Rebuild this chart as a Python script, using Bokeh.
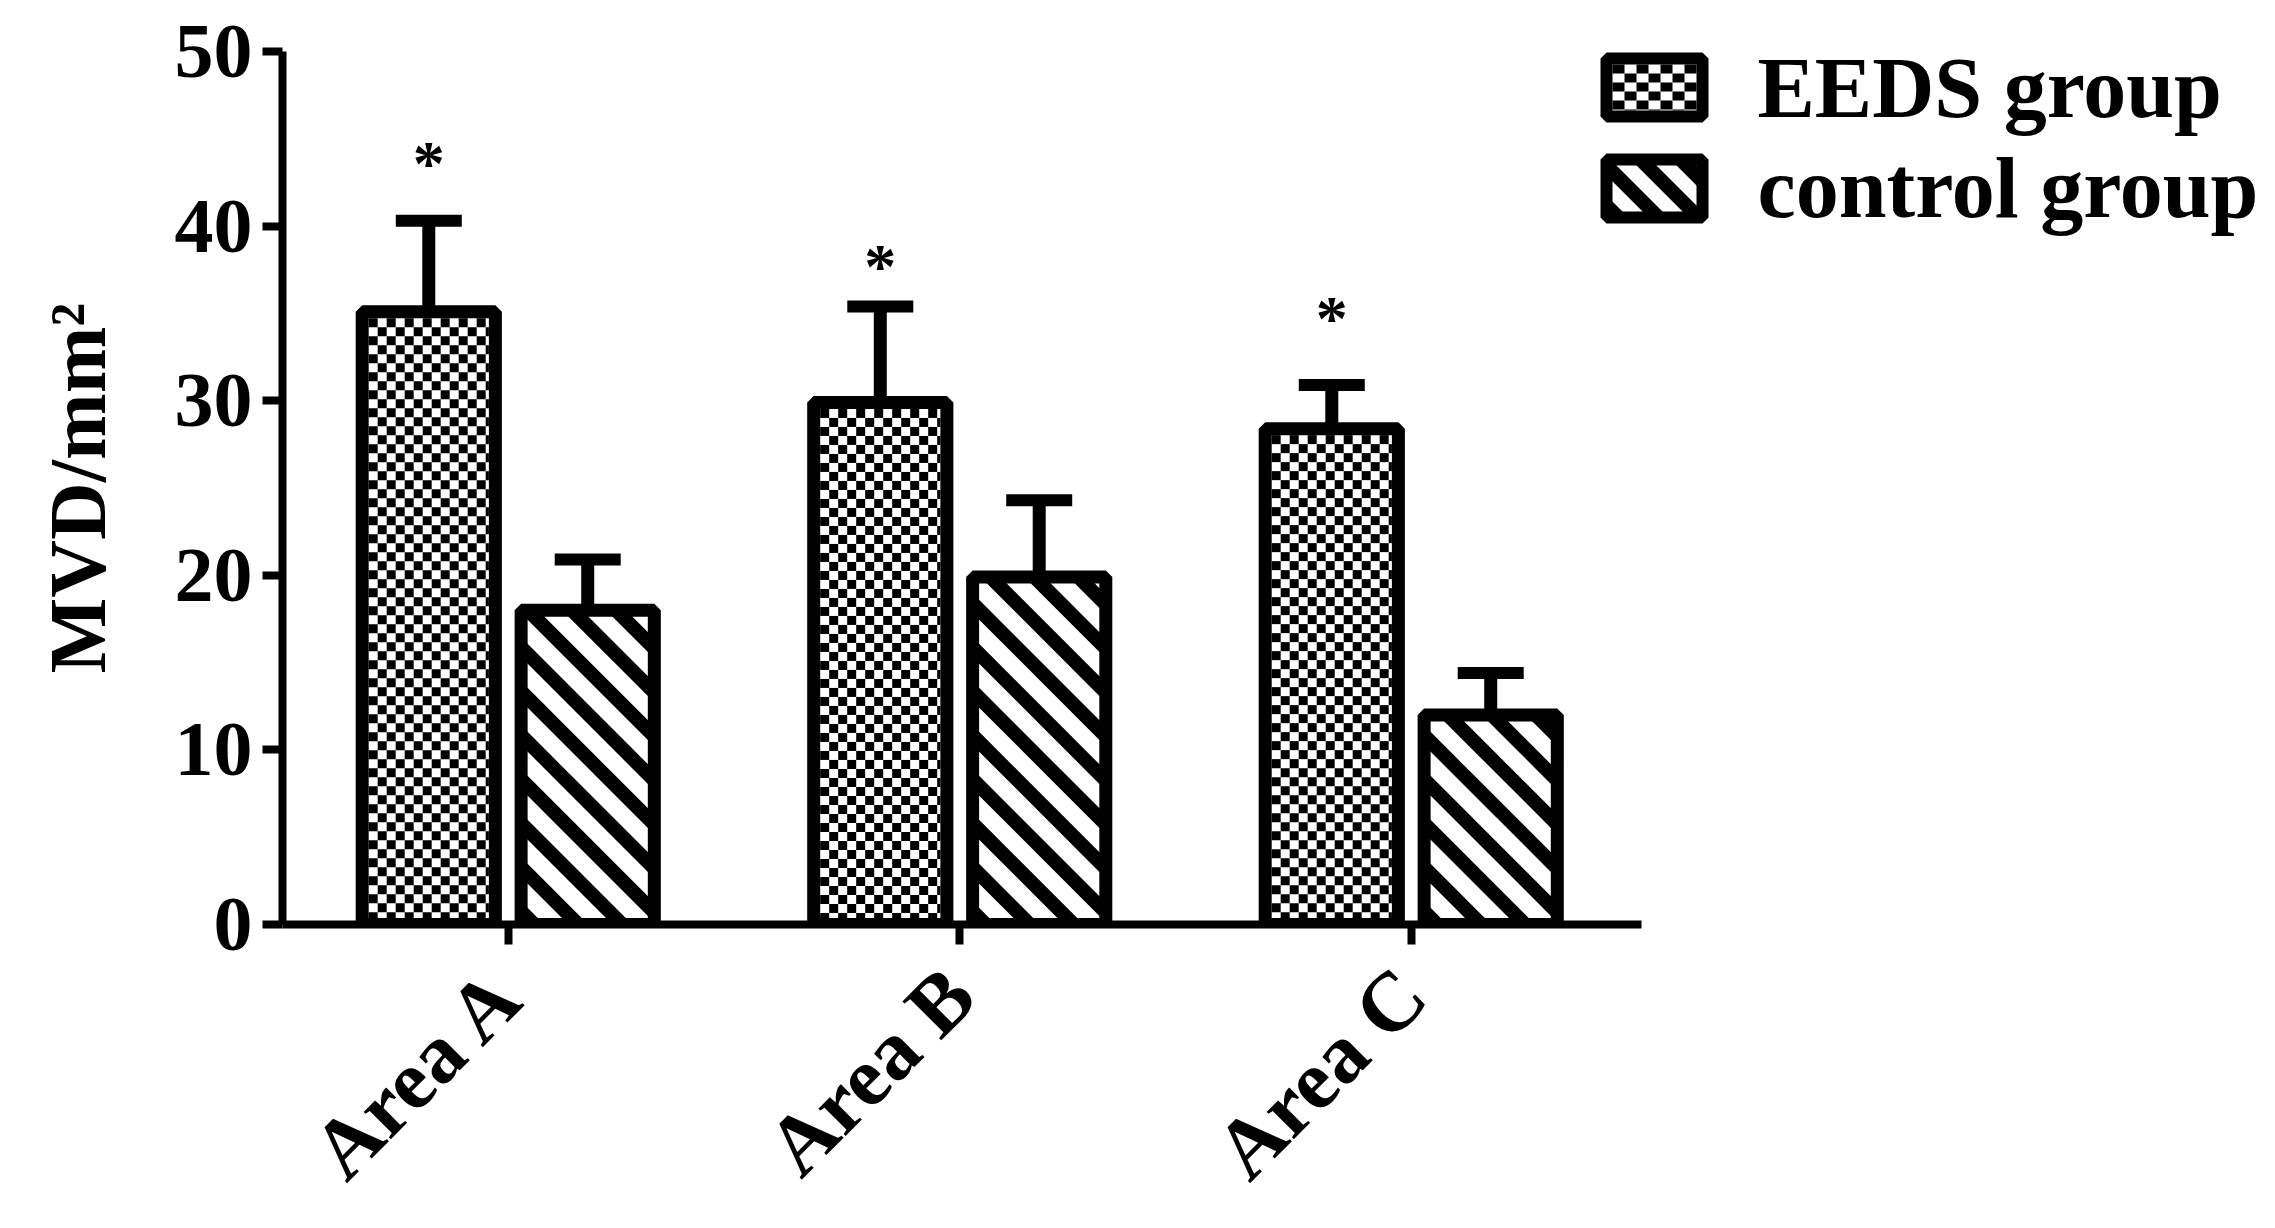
import math
from bokeh.plotting import figure
from bokeh.models import ColumnDataSource, Range1d, Whisker, TeeHead, FixedTicker
from bokeh.core.properties import value
from bokeh.embed import file_html
from bokeh.resources import INLINE

# ---- data ----
categories = ["Area A", "Area B", "Area C"]
series_names = ["EEDS group", "control group"]
eeds_mean = [35.1, 29.9, 28.4]
eeds_upper = [40.3, 35.4, 30.9]
control_mean = [18.0, 19.9, 12.0]
control_upper = [20.9, 24.3, 14.4]
star_labels = ["*", "*", "*"]
star_y = [43.6, 37.7, 34.7]
y_ticks = [0, 10, 20, 30, 40, 50]

# ---- layout / style constants ----
FONT = "Liberation Serif"
LEFT, TOP = 282, 51          # page px of frame left / top
FRAME_W, FRAME_H = 1983, 873
SX = 451.5                   # px per category unit
SY = FRAME_H / 50.0          # px per y unit
X_START = -0.5
X_END = X_START + FRAME_W / SX
BAR_W = 0.295
OFF = 0.176
LW = 13

xpos = list(range(len(categories)))
x_eeds = [x - OFF for x in xpos]
x_ctrl = [x + OFF for x in xpos]


def page_x(px):
    return X_START + (px - LEFT) / SX


def page_y(py):
    return 50.0 - (py - TOP) / SY


def checker(x0, x1, y0, y1, cw_px, ch_px):
    cw, ch = cw_px / SX, ch_px / SY
    nx = math.ceil((x1 - x0) / cw)
    ny = math.ceil((y1 - y0) / ch)
    L, R, B, T = [], [], [], []
    for j in range(ny):
        for i in range(nx):
            if (i + j) % 2 == 0:
                l = x0 + i * cw
                b = y1 - (j + 1) * ch
                L.append(l); R.append(min(l + cw, x1))
                B.append(max(b, y0)); T.append(b + ch)
    return L, R, B, T


def stripes(x0, x1, y0, y1, period_px=44.0):
    X0, X1, Y0, Y1 = x0 * SX, x1 * SX, y0 * SY, y1 * SY
    xs0, ys0, xs1, ys1 = [], [], [], []
    c = X0 + Y0 + period_px * 0.3
    while c < X1 + Y1:
        xa = max(X0, c - Y1)
        xb = min(X1, c - Y0)
        if xb > xa:
            xs0.append(xa / SX); ys0.append((c - xa) / SY)
            xs1.append(xb / SX); ys1.append((c - xb) / SY)
        c += period_px
    return xs0, ys0, xs1, ys1


p = figure(x_range=Range1d(X_START, X_END), y_range=Range1d(0, 50),
           frame_width=FRAME_W, frame_height=FRAME_H,
           min_border_left=LEFT, min_border_top=TOP, min_border_right=5, min_border_bottom=296,
           output_backend="svg", toolbar_location=None, tools="")
p.outline_line_color = None
p.xgrid.grid_line_color = None
p.ygrid.grid_line_color = None

hx = (LW / 2) / SX
hy = (LW / 2) / SY

# checker pattern for EEDS bars
cL, cR, cB, cT = [], [], [], []
for x, top in zip(x_eeds, eeds_mean):
    l, r, b, t = checker(x - BAR_W / 2 + hx, x + BAR_W / 2 - hx, 0, top - hy, 9, 9)
    cL += l; cR += r; cB += b; cT += t
# stripes for control bars
sx0, sy0, sx1, sy1 = [], [], [], []
for x, top in zip(x_ctrl, control_mean):
    a, b, c, d = stripes(x - BAR_W / 2, x + BAR_W / 2, 0, top)
    sx0 += a; sy0 += b; sx1 += c; sy1 += d

# legend geometry (page px)
LEG_L, LEG_R = 1606, 1702
LEG_BOX = [(58, 116), (159, 217)]
LEG_TEXT_X = 1757
LEG_BASE = [87, 187]
lgx0, lgx1 = page_x(LEG_L), page_x(LEG_R)
(t1, b1), (t2, b2) = LEG_BOX
l, r, b, t = checker(lgx0 + 6 / SX, lgx1 - 6 / SX, page_y(b1) + 6 / SY, page_y(t1) - 6 / SY, 12, 9)
cL += l; cR += r; cB += b; cT += t
a, b_, c, d = stripes(lgx0, lgx1, page_y(b2), page_y(t2), 40.0)
sx0 += a; sy0 += b_; sx1 += c; sy1 += d

p.quad(left=cL, right=cR, bottom=cB, top=cT, fill_color="black", line_color=None)
p.segment(x0=sx0, y0=sy0, x1=sx1, y1=sy1, line_color="black", line_width=14, line_cap="butt")

src = ColumnDataSource(dict(xe=x_eeds, xc=x_ctrl, eeds=eeds_mean, eeds_up=eeds_upper,
                            ctrl=control_mean, ctrl_up=control_upper,
                            star=star_labels, star_y=star_y))

p.vbar(x="xe", top="eeds", width=BAR_W, source=src, fill_color=None,
       line_color="black", line_width=LW, line_join="bevel")
p.vbar(x="xc", top="ctrl", width=BAR_W, source=src, fill_color=None,
       line_color="black", line_width=LW, line_join="bevel")

for xk, base_k, top_k in [("xe", "eeds", "eeds_up"), ("xc", "ctrl", "ctrl_up")]:
    p.add_layout(Whisker(base=xk, lower=base_k, upper=top_k, source=src, dimension="height",
                         line_color="black", line_width=LW,
                         upper_head=TeeHead(size=66, line_width=12, line_color="black"),
                         lower_head=None))

p.text(x="xe", y="star_y", text="star", source=src,
       text_font=value(FONT), text_font_style="bold", text_font_size="64px",
       text_align="center", text_baseline="middle", text_color="black")

# legend (drawn manually so the patterns show)
p.quad(left=[lgx0, lgx0], right=[lgx1, lgx1],
       bottom=[page_y(b1), page_y(b2)], top=[page_y(t1), page_y(t2)],
       fill_color=None, line_color="black", line_width=12, line_join="bevel")
p.text(x=[page_x(LEG_TEXT_X)] * 2, y=[page_y(v) for v in LEG_BASE], text=series_names,
       text_font=value(FONT), text_font_style="bold", text_font_size="86px",
       text_align="left", text_baseline="alphabetic", text_color="black")

# axes
for ax in (p.xaxis[0], p.yaxis[0]):
    ax.axis_line_width = 8
    ax.axis_line_color = "black"
    ax.major_tick_line_width = 8
    ax.major_tick_line_color = "black"
    ax.major_tick_out = 20
    ax.major_tick_in = 0
    ax.minor_tick_line_color = None
    ax.major_label_text_font = FONT
    ax.major_label_text_font_style = "bold"
    ax.major_label_text_color = "black"

p.yaxis.ticker = FixedTicker(ticks=y_ticks)
p.yaxis.major_label_text_font_size = "78px"
p.yaxis.major_label_standoff = 10
p.yaxis.axis_label = "MVD/mm²"
p.yaxis.axis_label_text_font = FONT
p.yaxis.axis_label_text_font_style = "bold"
p.yaxis.axis_label_text_font_size = "80px"
p.yaxis.axis_label_text_color = "black"
p.yaxis.axis_label_standoff = 50

p.xaxis.ticker = FixedTicker(ticks=xpos)
p.xaxis.major_label_overrides = {i: c for i, c in zip(xpos, categories)}
p.xaxis.bounds = (X_START, 2.51)
p.xaxis.major_label_text_font_size = "84px"
p.xaxis.major_label_orientation = 0.785398
p.xaxis.major_label_standoff = 37

open("out.html", "w").write(file_html(p, INLINE))
